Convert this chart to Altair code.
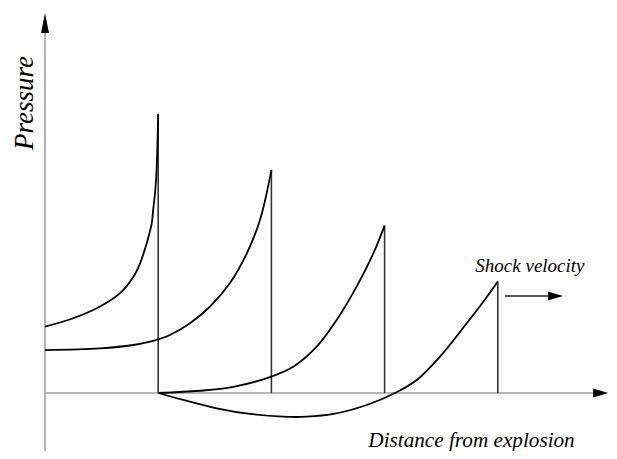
import altair as alt
import pandas as pd

# ---- values (x: distance units, y: pressure units) ----
c1_x = [0.0, 0.25, 0.486, 0.663, 0.780, 0.839, 0.898, 0.922, 0.943, 0.957, 0.972, 0.987, 1.0]
c1_y = [1.19, 1.34, 1.55, 1.79, 2.08, 2.32, 2.68, 2.86, 3.04, 3.31, 3.58, 4.06, 5.0]

c2_x = [0.0, 0.486, 0.780, 0.928, 0.998, 1.104, 1.281, 1.458, 1.634, 1.782, 1.899, 2.0]
c2_y = [0.77, 0.80, 0.86, 0.92, 0.96, 1.04, 1.25, 1.55, 1.97, 2.50, 3.10, 4.0]

c3_x = [1.0, 1.369, 1.663, 1.994, 2.193, 2.400, 2.577, 2.754, 2.900, 3.0]
c3_y = [0.0, 0.04, 0.11, 0.29, 0.47, 0.83, 1.31, 1.91, 2.50, 3.0]

c4_x = [1.0, 1.222, 1.517, 1.811, 2.105, 2.312, 2.547, 2.842, 3.092, 3.284, 3.489, 3.725, 3.872, 4.0]
c4_y = [0.0, -0.125, -0.274, -0.376, -0.425, -0.425, -0.376, -0.215, 0.0, 0.233, 0.651, 1.249, 1.636, 2.0]

shock_x = [1.0, 2.0, 3.0, 4.0]
shock_peak = [5.0, 4.0, 3.0, 2.0]

# axis / annotation extents (data units)
x_lo, x_hi = -0.32686, 4.98233
y_lo, y_hi = -1.03943, 6.89964
x_axis_end = 4.975
y_axis_end = 6.81
arrow_x0, arrow_x1, arrow_y = 4.064, 4.576, 1.738

x_title = "Distance from explosion"
y_title = "Pressure"
shock_label = "Shock velocity"

# ---- tables ----
rows = []
for name, xs_, ys_ in [("t1", c1_x, c1_y), ("t2", c2_x, c2_y), ("t3", c3_x, c3_y), ("t4", c4_x, c4_y)]:
    for i, (a, b) in enumerate(zip(xs_, ys_)):
        rows.append({"wave": name, "i": i, "x": a, "p": b})
curves = pd.DataFrame(rows)
fronts = pd.DataFrame({"x": shock_x, "p0": [0.0] * 4, "p1": shock_peak})

xs = alt.Scale(domain=[x_lo, x_hi], nice=False, zero=False)
ys = alt.Scale(domain=[y_lo, y_hi], nice=False, zero=False)

def X(f="x"):
    return alt.X(f"{f}:Q", scale=xs, axis=None)

def Y(f="p"):
    return alt.Y(f"{f}:Q", scale=ys, axis=None)

base = alt.Chart(pd.DataFrame({"x": [0.0]}))

y_axis = base.mark_rule(color="#a0a0a0", strokeWidth=1.6).encode(
    x=alt.X("a:Q", scale=xs, axis=None), y=alt.Y("b:Q", scale=ys, axis=None), y2="c:Q"
).transform_calculate(a="0", b=str(y_lo), c=str(y_axis_end - 0.2))

x_axis = base.mark_rule(color="#a0a0a0", strokeWidth=1.6).encode(
    x=alt.X("a:Q", scale=xs, axis=None), x2="b:Q", y=alt.Y("c:Q", scale=ys, axis=None)
).transform_calculate(a="0", b=str(x_axis_end - 0.1), c="0")

shock_line = base.mark_rule(color="#222222", strokeWidth=1.3).encode(
    x=alt.X("a:Q", scale=xs, axis=None), x2="b:Q", y=alt.Y("c:Q", scale=ys, axis=None)
).transform_calculate(a=str(arrow_x0), b=str(arrow_x1 - 0.05), c=str(arrow_y))

right_head = "M0,0L-2,-0.6L-2,0.6Z"
up_head = "M0,0L-0.4,2L0.4,2Z"

heads_right = alt.Chart(pd.DataFrame({"x": [x_axis_end, arrow_x1], "p": [0.0, arrow_y]})).mark_point(
    shape=right_head, filled=True, size=225, color="black", opacity=1, strokeWidth=0
).encode(x=X(), y=Y())

head_up = alt.Chart(pd.DataFrame({"x": [0.0], "p": [y_axis_end]})).mark_point(
    shape=up_head, filled=True, size=400, color="black", opacity=1, strokeWidth=0
).encode(x=X(), y=Y())

front_rules = alt.Chart(fronts).mark_rule(color="#333333", strokeWidth=1.6).encode(
    x=X(), y=Y("p0"), y2="p1:Q"
)

lines = alt.Chart(curves).mark_line(color="black", strokeWidth=1.8, interpolate="catmull-rom").encode(
    x=X(), y=Y(), detail="wave:N", order="i:Q"
)

font = "Liberation Serif"
t_x = alt.Chart(pd.DataFrame({"x": [3.768], "p": [-0.968], "t": [x_title]})).mark_text(
    font=font, fontStyle="italic", fontSize=21.2, align="center", baseline="alphabetic", color="black"
).encode(x=X(), y=Y(), text="t:N")

t_y = alt.Chart(pd.DataFrame({"x": [-0.106], "p": [5.197], "t": [y_title]})).mark_text(
    font=font, fontStyle="italic", fontSize=27, align="center", baseline="alphabetic", angle=270, color="black"
).encode(x=X(), y=Y(), text="t:N")

t_s = alt.Chart(pd.DataFrame({"x": [4.284], "p": [2.168], "t": [shock_label]})).mark_text(
    font=font, fontStyle="italic", fontSize=19, align="center", baseline="alphabetic", color="black"
).encode(x=X(), y=Y(), text="t:N")

chart = alt.layer(
    y_axis, x_axis, front_rules, lines, shock_line, heads_right, head_up, t_x, t_y, t_s
).properties(
    width=601, height=443, padding=0, autosize=alt.AutoSizeParams(type="none")
).configure_view(stroke=None)

chart.save("out.html", embed_options={"renderer": "svg", "actions": False})
